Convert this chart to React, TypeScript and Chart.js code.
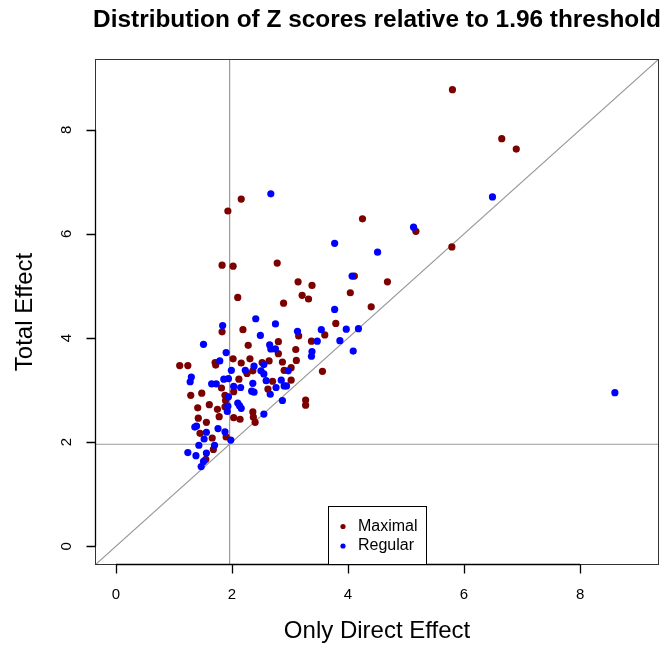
import React, { useEffect, useRef } from "react";
import { Chart, registerables } from "chart.js";

Chart.register(...registerables);

// ---- data ----
const chartTitle = "Distribution of Z scores relative to 1.96 threshold";
const xAxisTitle = "Only Direct Effect";
const yAxisTitle = "Total Effect";
const seriesNames = ["Maximal", "Regular"];
const xTicks = [0, 2, 4, 6, 8];
const yTicks = [0, 2, 4, 6, 8];
const threshold = 1.96;
const axisMin = -0.36;
const axisMax = 9.36;

const maximalX = [
  5.80, 6.65, 6.90, 4.25, 5.17, 5.79, 4.11, 4.68, 4.04, 4.40, 3.79,
  2.16, 1.93, 1.83, 2.02, 2.78, 3.14, 3.38, 3.21, 3.32, 2.10, 2.89,
  1.83, 2.19, 2.28, 2.02, 2.31, 2.16, 2.52, 1.71, 1.72, 1.10, 1.24, 2.36, 2.12,
  3.15, 3.60, 3.37, 2.80, 2.80, 3.10, 3.11, 2.64, 2.87, 3.02, 2.90, 3.56, 2.26,
  2.70, 3.02, 2.03, 2.62,
  2.36, 2.37, 2.40, 3.27, 3.27, 2.03, 2.14,
  1.29, 1.48, 1.82, 1.88, 1.89, 1.88, 1.61, 1.41, 1.75, 1.78,
  1.42, 1.56, 1.45, 1.66, 1.68, 1.55, 1.90,
];
const maximalY = [
  8.77, 7.83, 7.63, 6.29, 6.05, 5.75, 5.19, 5.08, 4.87, 4.60, 4.28,
  6.67, 6.44, 5.40, 5.38, 5.44, 5.08, 5.01, 4.82, 4.75, 4.78, 4.67,
  4.12, 4.16, 3.86, 3.60, 3.60, 3.52, 3.53, 3.53, 3.48, 3.47, 3.47, 3.37, 3.21,
  4.04, 4.06, 3.94, 3.93, 3.70, 3.78, 3.57, 3.56, 3.54, 3.43, 3.38, 3.36, 3.32,
  3.17, 3.19, 2.97, 3.02,
  2.58, 2.48, 2.38, 2.81, 2.71, 2.47, 2.44,
  2.90, 2.94, 3.04, 2.90, 2.80, 2.68, 2.72, 2.66, 2.63, 2.49,
  2.46, 2.38, 2.17, 2.08, 1.86, 1.67, 2.10,
];

const regularX = [
  6.49, 5.13, 3.77, 4.51, 4.07, 3.77, 3.97, 4.18, 3.86, 4.09, 8.60,
  2.67,
  2.41, 1.84, 2.49, 1.51, 1.90, 1.79, 2.38, 1.99, 2.23, 2.50, 1.30, 1.28,
  1.86, 1.94, 1.65, 1.73, 2.36, 2.55, 2.55,
  2.75, 2.65, 2.67, 2.75, 3.13, 3.54, 3.47, 3.38, 3.37, 2.97, 2.59, 2.85,
  2.03, 2.15, 2.34, 2.38, 2.66, 2.76, 2.90, 2.94, 2.87, 2.55,
  1.94, 2.10, 2.13, 2.16, 1.93, 1.92,
  1.36, 1.39, 1.56, 1.76, 1.52, 1.70, 1.98, 1.43, 1.24, 1.38, 1.51, 1.56, 1.47, 1.88,
];
const regularY = [
  6.71, 6.13, 5.82, 5.65, 5.19, 4.55, 4.17, 4.18, 3.95, 3.75, 2.95,
  6.77,
  4.37, 4.24, 4.05, 3.88, 3.72, 3.56, 3.46, 3.38, 3.38, 3.37, 3.25, 3.16,
  3.21, 3.22, 3.12, 3.12, 3.13, 3.31, 3.49,
  4.27, 3.87, 3.79, 3.79, 4.13, 4.16, 3.94, 3.74, 3.65, 3.37, 3.18, 3.19,
  3.07, 3.05, 2.98, 2.96, 2.92, 3.05, 3.08, 3.08, 2.80, 2.54,
  2.87, 2.75, 2.70, 2.65, 2.69, 2.59,
  2.29, 2.31, 2.19, 2.26, 2.06, 1.94, 2.04, 1.94, 1.80, 1.74, 1.63, 1.79, 1.53, 2.20,
];

const maximalColor = "#7d0000";
const regularColor = "#0000FF";
const refLineColor = "#9a9a9a";
const FONT = "'Liberation Sans', Arial, Helvetica, sans-serif";

const toPoints = (xs: number[], ys: number[]) => xs.map((x, i) => ({ x, y: ys[i] }));

const decorPlugin = {
  id: "decor",
  beforeDatasetsDraw(chart: any) {
    const { ctx, chartArea, scales } = chart;
    const xs = scales.x;
    const ys = scales.y;
    ctx.save();
    ctx.beginPath();
    ctx.rect(chartArea.left, chartArea.top, chartArea.right - chartArea.left, chartArea.bottom - chartArea.top);
    ctx.clip();
    ctx.strokeStyle = refLineColor;
    ctx.lineWidth = 1.2;
    const tx = xs.getPixelForValue(threshold);
    const ty = ys.getPixelForValue(threshold);
    ctx.beginPath();
    ctx.moveTo(tx, chartArea.top);
    ctx.lineTo(tx, chartArea.bottom);
    ctx.moveTo(chartArea.left, ty);
    ctx.lineTo(chartArea.right, ty);
    ctx.moveTo(xs.getPixelForValue(axisMin), ys.getPixelForValue(axisMin));
    ctx.lineTo(xs.getPixelForValue(axisMax), ys.getPixelForValue(axisMax));
    ctx.stroke();
    ctx.restore();
  },
  afterDraw(chart: any) {
    const { ctx, chartArea, scales } = chart;
    const xs = scales.x;
    const ys = scales.y;
    const L = Math.round(chartArea.left) + 0.5;
    const R = Math.round(chartArea.right) - 0.5;
    const T = Math.round(chartArea.top) + 0.5;
    const B = Math.round(chartArea.bottom) - 0.5;
    ctx.save();
    // box
    ctx.strokeStyle = "#333";
    ctx.lineWidth = 1;
    ctx.strokeRect(L, T, R - L, B - T);
    // axes
    ctx.strokeStyle = "#000";
    ctx.lineWidth = 1.3;
    const tickLen = 9;
    ctx.beginPath();
    ctx.moveTo(xs.getPixelForValue(xTicks[0]), B);
    ctx.lineTo(xs.getPixelForValue(xTicks[xTicks.length - 1]), B);
    xTicks.forEach((t) => {
      const px = Math.round(xs.getPixelForValue(t)) + 0.5;
      ctx.moveTo(px, B);
      ctx.lineTo(px, B + tickLen);
    });
    ctx.moveTo(L, ys.getPixelForValue(yTicks[0]));
    ctx.lineTo(L, ys.getPixelForValue(yTicks[yTicks.length - 1]));
    yTicks.forEach((t) => {
      const py = Math.round(ys.getPixelForValue(t)) + 0.5;
      ctx.moveTo(L, py);
      ctx.lineTo(L - tickLen, py);
    });
    ctx.stroke();
    // tick labels
    ctx.fillStyle = "#000";
    ctx.font = `15px ${FONT}`;
    ctx.textAlign = "center";
    ctx.textBaseline = "middle";
    xTicks.forEach((t) => {
      ctx.fillText(String(t), xs.getPixelForValue(t), B + 30);
    });
    yTicks.forEach((t) => {
      ctx.save();
      ctx.translate(L - 29, ys.getPixelForValue(t));
      ctx.rotate(-Math.PI / 2);
      ctx.fillText(String(t), 0, 0);
      ctx.restore();
    });
    // titles
    const cx = (chartArea.left + chartArea.right) / 2;
    const cy = (chartArea.top + chartArea.bottom) / 2;
    ctx.font = `bold 24.4px ${FONT}`;
    ctx.textBaseline = "alphabetic";
    ctx.fillText(chartTitle, cx, 27);
    ctx.font = `24px ${FONT}`;
    ctx.textBaseline = "middle";
    ctx.fillText(xAxisTitle, cx, B + 67);
    ctx.save();
    ctx.translate(25, cy);
    ctx.rotate(-Math.PI / 2);
    ctx.fillText(yAxisTitle, 0, 0);
    ctx.restore();
    // legend
    const lgL = 328.5, lgR = 426.5, lgT = 506.5;
    ctx.fillStyle = "#fff";
    ctx.fillRect(lgL, lgT, lgR - lgL, B - lgT);
    ctx.strokeStyle = "#000";
    ctx.lineWidth = 1;
    ctx.strokeRect(lgL, lgT, lgR - lgL, B - lgT);
    const colors = [maximalColor, regularColor];
    ctx.font = `16px ${FONT}`;
    ctx.textAlign = "left";
    seriesNames.forEach((name, i) => {
      const yy = 526.5 + i * 19.5;
      ctx.fillStyle = colors[i];
      ctx.beginPath();
      ctx.arc(343, yy, 2.6, 0, Math.PI * 2);
      ctx.fill();
      ctx.fillStyle = "#000";
      ctx.fillText(name, 358, yy);
    });
    ctx.restore();
  },
};

export default function App() {
  const canvasRef = useRef<HTMLCanvasElement | null>(null);
  useEffect(() => {
    const canvas = canvasRef.current;
    if (!canvas) return;
    const chart = new Chart(canvas, {
      type: "scatter",
      data: {
        datasets: [
          {
            label: seriesNames[0],
            data: toPoints(maximalX, maximalY),
            backgroundColor: maximalColor,
            borderColor: maximalColor,
            borderWidth: 0,
            pointRadius: 3.6,
            order: 2,
          },
          {
            label: seriesNames[1],
            data: toPoints(regularX, regularY),
            backgroundColor: regularColor,
            borderColor: regularColor,
            borderWidth: 0,
            pointRadius: 3.6,
            order: 1,
          },
        ],
      },
      options: {
        animation: false,
        responsive: false,
        devicePixelRatio: 1,
        layout: { padding: { left: 95, right: 5, top: 59, bottom: 84 } },
        plugins: { legend: { display: false }, title: { display: false }, tooltip: { enabled: false } },
        events: [],
        scales: {
          x: { type: "linear", min: axisMin, max: axisMax, display: false },
          y: { type: "linear", min: axisMin, max: axisMax, display: false },
        },
      },
      plugins: [decorPlugin],
    });
    return () => chart.destroy();
  }, []);
  return (
    <div style={{ position: "fixed", left: 0, top: 0, width: 664, height: 649, background: "#fff" }}>
      <canvas ref={canvasRef} width={664} height={649} style={{ display: "block" }} />
    </div>
  );
}
